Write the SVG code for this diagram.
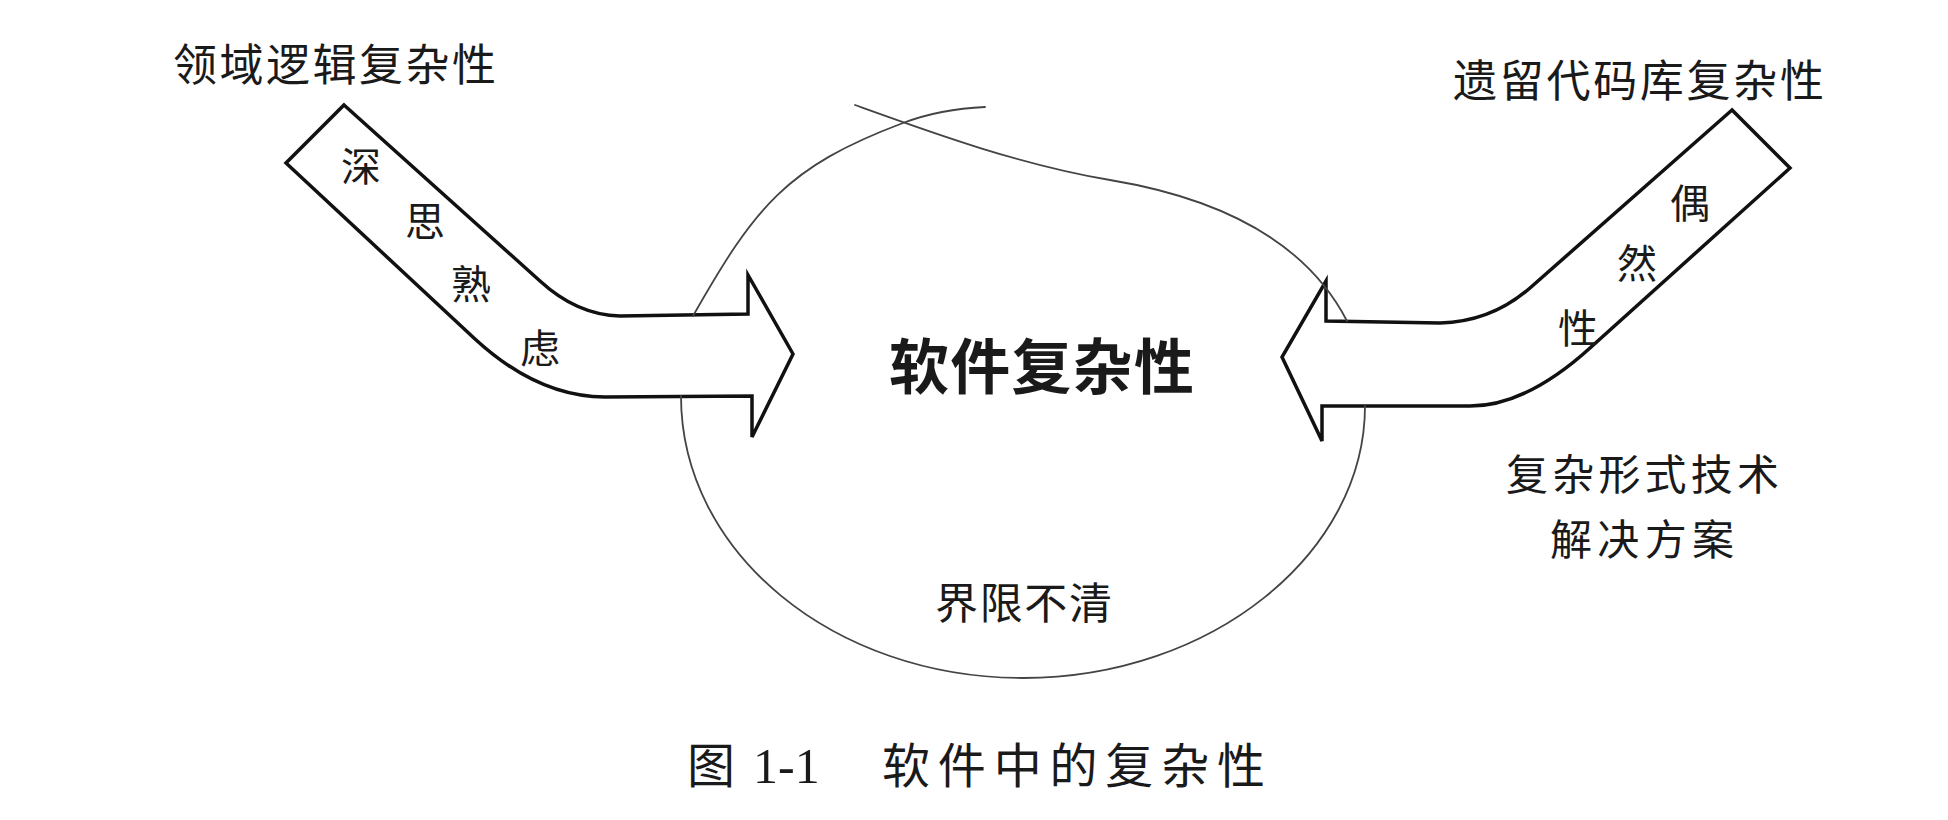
<svg xmlns="http://www.w3.org/2000/svg" width="1948" height="820" viewBox="0 0 1948 820">
<style>
.t { font-family: "Noto Sans CJK SC", "Noto Sans", sans-serif; fill: #1a1a1a; }
.lbl { font-size: 44px; }
.in { font-size: 40px; text-anchor: middle; }
.arrow { fill: #ffffff; stroke: #111111; stroke-width: 3.5; stroke-linejoin: miter; }
.blob { fill: none; stroke: #444444; stroke-width: 1.8; stroke-linecap: round; }
</style>
<rect width="1948" height="820" fill="#ffffff"/>

<g id="left-arrow">
  <path class="arrow" d="M344,105 L540,281 Q577,315 620,316 L748,314 L748,275 L793,354 L752,437 L752,396 L605,397 Q538,397 475,339 L286,163 Z"/>
  <text class="t in" x="361" y="181">深</text>
  <text class="t in" x="425" y="236">思</text>
  <text class="t in" x="471" y="299">熟</text>
  <text class="t in" x="540" y="363">虑</text>
</g>

<g id="right-arrow">
  <path class="arrow" d="M1732,110 L1530,288 Q1491,322 1440,323 L1326,321 L1326,281 L1282,357 L1322,441 L1322,406 L1470,406 Q1526,406 1590,348 L1790,168 Z"/>
  <text class="t in" x="1690" y="218">偶</text>
  <text class="t in" x="1637" y="278">然</text>
  <text class="t in" x="1578" y="343">性</text>
</g>

<g id="boundary">
  <path class="blob" d="M855,105 C930,132 1020,165 1110,180 C1200,195 1300,230 1347,321"/>
  <path class="blob" d="M1365,406 C1365,553 1212,678 1023,678 C834,678 681,553 681,396"/>
  <path class="blob" d="M693,316 C755,207 786,167 903,123 Q940,109 985,107"/>
</g>

<g id="domain-label">
  <text class="t lbl" x="173" y="81" textLength="323" lengthAdjust="spacing">领域逻辑复杂性</text>
</g>
<g id="legacy-label">
  <text class="t lbl" x="1453" y="97" textLength="371" lengthAdjust="spacing">遗留代码库复杂性</text>
</g>
<g id="center-label">
  <text class="t" x="889" y="389" font-size="60" font-weight="700" textLength="305" lengthAdjust="spacing">软件复杂性</text>
</g>
<g id="boundary-label">
  <text class="t" x="935" y="619" font-size="43" textLength="177" lengthAdjust="spacing">界限不清</text>
</g>
<g id="solution-label">
  <text class="t" x="1506" y="490" font-size="42" textLength="273" lengthAdjust="spacing">复杂形式技术</text>
  <text class="t" x="1550" y="555" font-size="42" textLength="184" lengthAdjust="spacing">解决方案</text>
</g>
<g id="caption">
  <text class="t" x="687" y="783" font-size="48">图</text>
  <text x="753" y="783" font-size="50" font-family="Liberation Serif, serif" fill="#1a1a1a">1-1</text>
  <text class="t" x="882" y="783" font-size="48" textLength="383" lengthAdjust="spacing">软件中的复杂性</text>
</g>
</svg>
